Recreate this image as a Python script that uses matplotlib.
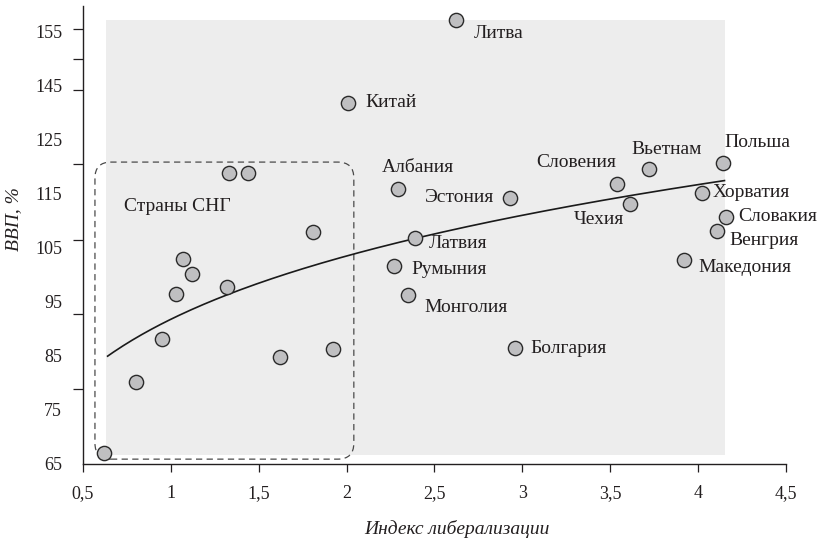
import numpy as np
import matplotlib
matplotlib.use("Agg")
import matplotlib.pyplot as plt
from matplotlib.patches import Rectangle, FancyBboxPatch

plt.rcParams['font.family'] = ['Liberation Serif', 'DejaVu Serif']

# ---------------- data ----------------
# CIS countries (unlabelled points)
cis_x = [0.62, 0.80, 0.95, 1.03, 1.07, 1.12, 1.32, 1.33, 1.44, 1.62, 1.81, 1.92]
cis_y = [67.0, 80.1, 88.1, 96.4, 102.9, 100.1, 97.8, 118.8, 118.8, 84.8, 107.9, 86.2]

# labelled countries
countries = ['Литва', 'Китай', 'Албания', 'Эстония', 'Латвия', 'Румыния', 'Монголия',
             'Болгария', 'Словения', 'Вьетнам', 'Польша', 'Хорватия', 'Чехия',
             'Словакия', 'Венгрия', 'Македония']
country_x = [2.62, 2.01, 2.29, 2.93, 2.39, 2.27, 2.35, 2.96, 3.54, 3.72, 4.14, 4.02,
             3.61, 4.16, 4.11, 3.92]
country_y = [147.2, 131.9, 115.9, 114.3, 106.9, 101.7, 96.2, 86.4, 116.9, 119.6, 120.8,
             115.1, 113.1, 110.8, 108.2, 102.7]

# trend line (power fit y = A * x^B), drawn over the range of the grey panel
TREND_A = 91.8
TREND_B = 0.1733
trend_range = (0.64, 4.15)

# axis ticks
x_ticks = [0.5, 1.0, 1.5, 2.0, 2.5, 3.0, 3.5, 4.0, 4.5]
x_tick_labels = ['0,5', '1', '1,5', '2', '2,5', '3', '3,5', '4', '4,5']
y_label_pos = [65, 75, 85, 95, 105, 115, 125, 135, 145]
y_tick_labels = ['65', '75', '85', '95', '105', '115', '125', '145', '155']
y_mark_pos = [65, 78.9, 92.8, 106.5, 120.6, 134.3, 140.0, 145.5]

group_label = 'Страны СНГ'
x_title = 'Индекс либерализации'
y_title = 'ВВП, %'

# ---------------- styling / positions ----------------
label_offsets = {  # pixel offsets (dx, dy), horizontal alignment
    'Литва': (18, -13, 'left'),
    'Китай': (17, 0, 'left'),
    'Албания': (20, 22, 'center'),
    'Эстония': (-16, 0, 'right'),
    'Латвия': (14, -6, 'left'),
    'Румыния': (17, -4, 'left'),
    'Монголия': (16, -12, 'left'),
    'Болгария': (15, 0, 'left'),
    'Словения': (-1, 21, 'right'),
    'Вьетнам': (18, 20, 'center'),
    'Польша': (2, 20, 'left'),
    'Хорватия': (11, 1, 'left'),
    'Чехия': (-6, -15, 'right'),
    'Словакия': (12, 0, 'left'),
    'Венгрия': (12, -10, 'left'),
    'Македония': (14, -7, 'left'),
}

TEXT = '#231f20'
FS = 14

fig = plt.figure(figsize=(8.19, 5.43), dpi=100)
ax = fig.add_axes([83 / 819, (543 - 464) / 543, (786 - 83) / 819, (464 - 6) / 543])
ax.set_xlim(0.5, 4.5)
ax.set_ylim(65, 149.8)

# grey panel
ax.add_patch(Rectangle((0.631, 66.7), 4.153 - 0.631, 147.2 - 66.7,
                       facecolor='#ededed', edgecolor='none', zorder=0))

# dashed rounded box for CIS
px_per_x = 175.2
px_per_y = 5.4
r_px = 16
box = FancyBboxPatch((0.568, 65.9), 2.041 - 0.568, 120.9 - 65.9,
                     boxstyle=f"round,pad=0,rounding_size={r_px / px_per_x}",
                     mutation_aspect=(r_px / px_per_y) / (r_px / px_per_x),
                     facecolor='none', edgecolor='#4a4a4a', linewidth=0.9,
                     linestyle=(0, (5, 3.5)), zorder=1)
ax.add_patch(box)

# trend line
tx = np.linspace(trend_range[0], trend_range[1], 200)
ax.plot(tx, TREND_A * tx ** TREND_B, color='#1a1a1a', linewidth=1.2, zorder=2)

# points
mk = dict(s=105, facecolor='#bfbfc1', edgecolor='#2a2a2a', linewidths=1.0, zorder=3)
ax.scatter(cis_x, cis_y, **mk)
ax.scatter(country_x, country_y, **mk)

for name, x, y in zip(countries, country_x, country_y):
    dx, dy, ha = label_offsets[name]
    ax.annotate(name, (x, y), xytext=(dx, dy), textcoords='offset pixels',
                ha=ha, va='center', fontsize=FS, color=TEXT, zorder=4)

ax.text(0.734, 112.6, group_label, fontsize=FS, color=TEXT, ha='left', va='center')

# axes styling
for s in ['top', 'right']:
    ax.spines[s].set_visible(False)
for s in ['left', 'bottom']:
    ax.spines[s].set_color('#231f20')
    ax.spines[s].set_linewidth(1.0)

ax.set_xticks(x_ticks)
ax.set_xticklabels(x_tick_labels)
ax.tick_params(axis='x', direction='out', length=6, width=0.9, color='#231f20',
               labelsize=13, labelcolor=TEXT, pad=9)

ax.set_yticks(y_label_pos)
ax.set_yticklabels(y_tick_labels)
ax.tick_params(axis='y', which='major', length=0, pad=15, labelsize=13, labelcolor=TEXT)
ax.set_yticks(y_mark_pos, minor=True)
ax.tick_params(axis='y', which='minor', direction='out', length=7, width=0.9, color='#231f20')

ax.set_xlabel(x_title, fontsize=FS, style='italic', color=TEXT)
ax.xaxis.set_label_coords(0.532, -0.122)
ax.set_ylabel(y_title, fontsize=FS, style='italic', color=TEXT)
ax.yaxis.set_label_coords(-0.087, 0.535)

fig.savefig('out.png', dpi=100)
